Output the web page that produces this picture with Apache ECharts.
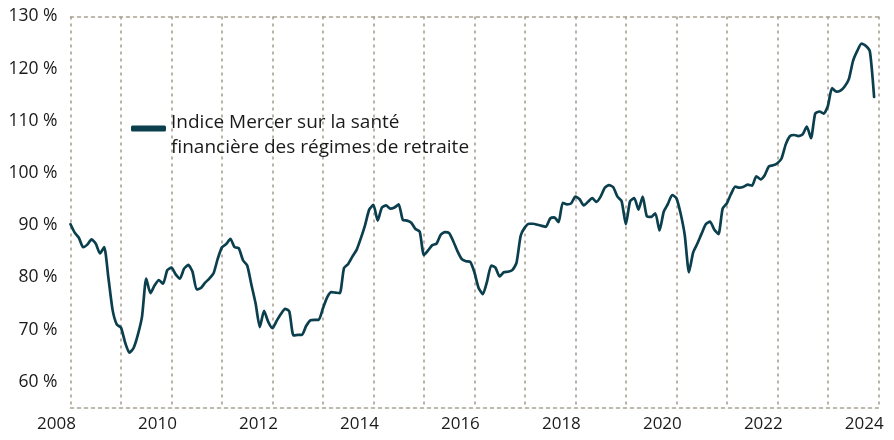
<!DOCTYPE html>
<html>
<head>
<meta charset="utf-8">
<title>Indice Mercer</title>
<script src="https://cdn.jsdelivr.net/npm/echarts@6/dist/echarts.min.js"></script>
<style>
  html, body { margin: 0; padding: 0; background: #fff; }
  #chart { width: 894px; height: 440px; }
</style>
</head>
<body>
<div id="chart"></div>
<script>
// premiere annee de l'axe, une valeur par mois a partir de la
var startYear = 2008;
var endYear = 2024;

// etiquettes de l'axe vertical
var yTicks = [60, 70, 80, 90, 100, 110, 120, 130];

var seriesName = 'Indice Mercer sur la santé\nfinancière des régimes de retraite';

// indice mensuel (%)
var indexValues = [
  90.2, 88.6, 87.6, 85.8, 86.3, 87.3, 86.5, 84.6, 85.8, 80.0, 73.8, 71.0,
  70.4, 67.5, 65.6, 66.5, 69.0, 72.5, 79.8, 77.0, 78.5, 79.5, 78.8, 81.4,
  81.9, 80.6, 79.8, 81.7, 82.4, 81.1, 77.7, 78.0, 79.0, 79.8, 80.8, 83.6,
  85.8, 86.4, 87.4, 85.8, 85.6, 83.3, 82.3, 78.6, 75.0, 70.5, 73.6, 71.5,
  70.3, 71.7, 73.0, 74.0, 73.5, 68.9, 69.0, 69.0, 70.7, 71.8, 71.9, 71.9,
  74.1, 76.2, 77.2, 77.1, 77.0, 81.8, 82.6, 84.0, 85.3, 87.5, 90.0, 93.0,
  93.9, 90.9, 93.4, 93.8, 93.2, 93.4, 94.0, 91.0, 90.9, 90.5, 89.3, 88.8,
  84.3, 85.2, 86.2, 86.5, 88.2, 88.7, 88.5, 86.9, 85.0, 83.5, 83.1, 83.0,
  81.0, 78.0, 76.8, 79.2, 82.3, 81.9, 80.2, 81.0, 81.1, 81.4, 82.8, 88.0,
  89.6, 90.3, 90.3, 90.1, 89.9, 89.7, 91.3, 91.5, 90.6, 94.3, 94.0, 94.2,
  95.5, 95.0, 93.8, 94.5, 95.2, 94.5, 95.5, 97.2, 97.7, 97.3, 95.5, 94.6,
  90.2, 94.6, 95.2, 93.0, 95.5, 91.7, 91.6, 92.3, 89.0, 92.6, 94.1, 95.8,
  95.2, 92.3, 88.1, 81.0, 84.8, 86.5, 88.4, 90.2, 90.7, 89.2, 88.3, 93.2,
  94.2, 96.0, 97.4, 97.2, 97.4, 97.8, 97.6, 99.4, 98.8, 99.6, 101.3, 101.5,
  101.9, 102.8, 105.5, 107.1, 107.3, 107.1, 107.4, 108.9, 106.7, 111.4, 111.8, 111.4,
  112.8, 116.3, 115.6, 115.8, 116.6, 118.0, 121.5, 123.4, 124.8, 124.4, 123.3, 114.6
];

var lineColor = '#0b3f4e';
var gridColor = '#a8a192';
var textColor = '#1a1a1a';
var fontFamily = '"Open Sans", Lato, sans-serif';

var dotted = { color: gridColor, width: 1.6, type: [3, 4] };

// x = numero du mois depuis le debut
var points = indexValues.map(function (v, i) { return [i, v]; });
var monthsTotal = (endYear - startYear) * 12;

var chart = echarts.init(document.getElementById('chart'), null, { renderer: 'canvas' });

var option = {
  animation: false,
  backgroundColor: '#fff',
  grid: { left: 70.5, right: 15.7, top: 16.5, bottom: 32 },
  legend: {
    data: [seriesName],
    left: 126,
    top: 92,
    icon: 'roundRect',
    itemWidth: 35,
    itemHeight: 6,
    // petite ligne vide au-dessus pour remonter le trait vers la 1re ligne
    formatter: function (name) {
      var lines = name.split('\n');
      return '{gap| }\n' + lines.map(function (l) { return '{t|' + l + '}'; }).join('\n');
    },
    textStyle: {
      color: textColor,
      fontFamily: fontFamily,
      fontSize: 19,
      rich: {
        gap: { fontSize: 1, lineHeight: 13, height: 13 },
        t: { color: textColor, fontFamily: fontFamily, fontSize: 19, lineHeight: 25 }
      }
    }
  },
  xAxis: [
    {
      type: 'value',
      min: 0,
      max: monthsTotal,
      interval: 12,
      axisLine: { show: true, lineStyle: dotted },
      axisTick: { show: false },
      splitLine: { show: true, lineStyle: dotted },
      axisLabel: {
        color: textColor,
        fontFamily: fontFamily,
        fontSize: 17,
        margin: 8,
        // les annees sont un peu a gauche du trait
        padding: [0, 28, 0, 0],
        formatter: function (v) {
          return v % 24 === 0 ? String(startYear + v / 12) : '';
        }
      }
    },
    {
      // bord du haut en pointille
      type: 'value',
      position: 'top',
      min: 0,
      max: monthsTotal,
      interval: 12,
      axisLine: { show: true, lineStyle: dotted },
      axisTick: { show: false },
      axisLabel: { show: false },
      splitLine: { show: false }
    }
  ],
  yAxis: {
    type: 'value',
    min: 55,
    max: 130,
    interval: 5,
    axisLine: { show: false },
    axisTick: { show: false },
    splitLine: { show: false },
    axisLabel: {
      color: textColor,
      fontFamily: fontFamily,
      fontSize: 17.5,
      margin: 13,
      formatter: function (v) {
        return yTicks.indexOf(v) >= 0 ? v + ' %' : '';
      }
    }
  },
  series: [
    {
      name: seriesName,
      type: 'line',
      data: points,
      symbol: 'none',
      smooth: 0.2,
      color: lineColor,
      lineStyle: { color: lineColor, width: 2.7, cap: 'round', join: 'round' }
    }
  ]
};

chart.setOption(option);
</script>
</body>
</html>
